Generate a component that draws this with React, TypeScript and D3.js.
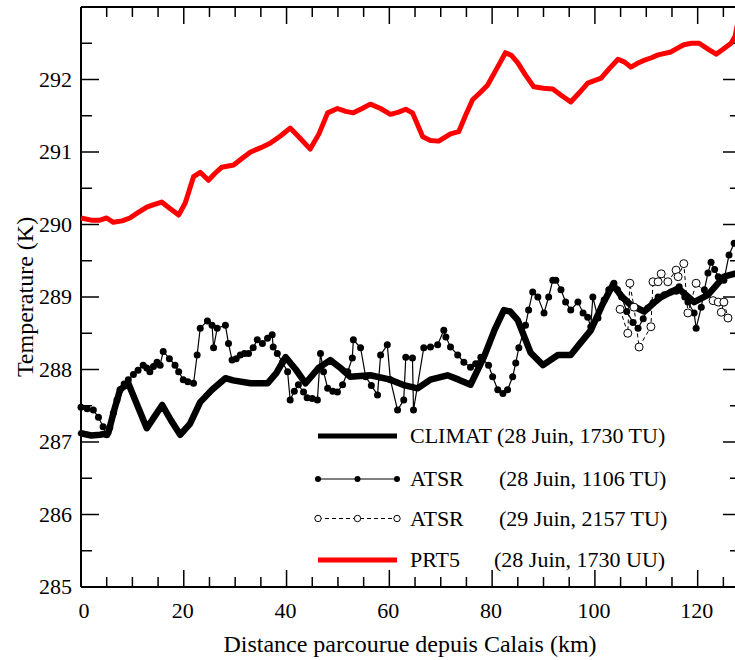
import React from "react";
import * as d3 from "d3";

// ---- data (distance km, temperature K) ----
const prt5: [number, number][] = [
  [0, 290.09], [2, 290.06], [3.7, 290.06], [5, 290.09], [6.3, 290.03], [8, 290.05], [9.5, 290.09],
  [11, 290.16], [12.8, 290.24], [14, 290.27], [15.7, 290.31], [17.3, 290.22], [19, 290.13],
  [20.3, 290.3], [21.9, 290.66], [23.2, 290.72], [24.8, 290.61], [26, 290.7], [27.4, 290.79],
  [29.7, 290.82], [31.5, 290.92], [33, 291.0], [35, 291.06], [36.8, 291.12], [38.8, 291.22],
  [40.7, 291.33], [42.5, 291.2], [44.6, 291.04], [46.3, 291.25], [48, 291.54], [49.9, 291.6],
  [51.5, 291.56], [53, 291.54], [54.7, 291.6], [56.3, 291.66], [58.3, 291.6], [60.2, 291.52],
  [61.8, 291.55], [63.2, 291.59], [64.5, 291.54], [66.5, 291.21], [68, 291.16], [69.6, 291.15],
  [71.9, 291.25], [73.5, 291.28], [74.8, 291.5], [76.2, 291.72], [77.7, 291.82], [79.1, 291.92],
  [80.9, 292.15], [82.6, 292.37], [83.8, 292.33], [85, 292.23], [86.5, 292.06], [88.1, 291.9],
  [90, 291.88], [91.8, 291.87], [93.5, 291.78], [95.3, 291.69], [97, 291.82], [98.6, 291.95],
  [101.2, 292.02], [102.8, 292.15], [104.5, 292.28], [105.8, 292.24], [107, 292.17], [108.2, 292.22],
  [109.4, 292.26], [111, 292.3], [112.3, 292.34], [114.8, 292.38], [116, 292.43], [117.3, 292.48],
  [118.8, 292.5], [120.3, 292.5], [122, 292.42], [123.6, 292.35], [125, 292.42], [126.5, 292.5],
  [127.3, 292.6], [127.7, 292.75],
];

const climat: [number, number][] = [
  [0, 287.12], [2, 287.09], [3.7, 287.1], [5.3, 287.12], [6.5, 287.45], [7.6, 287.72], [9.2, 287.81],
  [11, 287.5], [12.8, 287.19], [14.3, 287.35], [15.8, 287.51], [17.5, 287.3], [19.3, 287.1],
  [21.2, 287.25], [23.2, 287.55], [25.5, 287.72], [28.1, 287.88], [29.6, 287.85], [33, 287.81],
  [36.3, 287.81], [38, 287.95], [39.8, 288.17], [41.8, 288.0], [43.7, 287.81], [46.2, 288.02],
  [48.5, 288.13], [50.5, 288.02], [52.4, 287.9], [56.3, 287.92], [60.2, 287.86], [63, 287.78],
  [65.5, 287.74], [68, 287.86], [71.3, 287.92], [73.5, 287.86], [75.8, 287.79], [78.4, 288.17],
  [80.5, 288.55], [82.3, 288.82], [83.5, 288.8], [85, 288.68], [87.5, 288.23], [89.9, 288.06],
  [92.8, 288.2], [95.3, 288.2], [97, 288.35], [99.2, 288.54], [101.5, 288.9], [103.5, 289.17],
  [105.3, 289.0], [107, 288.89], [109.6, 288.8], [111.5, 288.92], [112.9, 289.0], [116.2, 289.12],
  [119.3, 288.93], [122, 289.03], [125.1, 289.28], [127.6, 289.33],
];

const atsr28: [number, number][] = [
  [0, 287.48], [1.2, 287.46], [2.4, 287.44], [3.4, 287.34], [4.3, 287.21], [5, 287.1], [5.6, 287.2],
  [6.3, 287.4], [7, 287.58], [7.6, 287.72], [8.4, 287.8], [9.2, 287.86], [10.2, 287.93], [11.1, 287.99],
  [12.1, 288.06], [12.8, 288.02], [13.4, 287.97], [14.1, 288.04], [14.8, 288.1], [15.4, 288.06],
  [16, 288.25], [17.2, 288.15], [18.3, 288.06], [19, 287.97], [19.9, 287.86], [20.8, 287.83],
  [21.9, 287.81], [22.6, 288.2], [23.2, 288.57], [24.6, 288.67], [25.5, 288.61], [25.8, 288.3],
  [26.5, 288.57], [28.1, 288.61], [28.7, 288.36], [29.4, 288.13], [30.2, 288.15], [31, 288.2],
  [31.8, 288.22], [32.6, 288.22], [33.5, 288.3], [34.3, 288.41], [35.3, 288.36], [36.3, 288.43],
  [37.2, 288.48], [37.4, 288.31], [38.2, 288.22], [39.2, 288.1], [40.2, 287.97], [40.7, 287.58],
  [41.5, 287.7], [42.3, 287.79], [43.3, 287.69], [44, 287.61], [45, 287.6], [46, 287.58],
  [46.6, 288.22], [47.2, 287.97], [48, 287.74], [49, 287.7], [49.9, 287.69], [50.9, 287.79],
  [51.9, 287.97], [52.8, 288.16], [53, 288.41], [54.4, 288.3], [55.4, 287.9], [56.5, 287.78],
  [57.7, 287.65], [58.3, 288.2], [59.6, 288.34], [60.2, 287.86], [61.6, 287.44], [62.8, 287.58],
  [63.2, 288.17], [64.5, 288.16], [64.7, 287.44], [66.7, 288.3], [68, 288.31], [69.4, 288.34],
  [70.6, 288.54], [71, 288.45], [71.9, 288.31], [73.3, 288.2], [74.5, 288.1], [75.8, 288.03],
  [76.8, 288.08], [77.8, 288.17], [79.3, 288.06], [80.1, 287.9], [81.1, 287.72], [82.1, 287.67],
  [83, 287.72], [84, 287.9], [84.6, 288.09], [85.2, 288.3], [86.5, 288.61], [87.1, 288.82],
  [87.9, 289.07], [88.9, 289.0], [90.1, 288.78], [91, 289.0], [91.8, 289.23], [92.4, 289.23],
  [93.4, 289.1], [94.3, 288.93], [95.3, 288.82], [96.7, 288.93], [97.7, 288.78], [98.6, 288.72],
  [99.2, 288.59], [99.6, 289.0], [100.6, 288.71], [101.8, 288.96], [102.7, 289.1], [103.7, 289.19],
  [104.4, 289.1], [105.2, 289.0], [106.2, 288.8], [107.4, 288.65], [108.4, 288.57], [109.4, 288.7],
  [110.3, 288.85], [111.3, 288.92], [112.3, 289.0], [113.5, 289.03], [114.8, 289.07], [115.8, 289.08],
  [116.4, 289.14], [117.5, 289.0], [118.1, 288.93], [119.3, 288.78], [119.7, 288.57], [120.7, 288.86],
  [121.3, 289.1], [122, 289.33], [122.6, 289.48], [123.3, 289.38], [124, 289.28], [125.1, 289.23],
  [126.1, 289.58], [127.1, 289.74],
];

const atsr29: [number, number][] = [
  [104.9, 288.83], [106.4, 288.5], [106.8, 289.19], [107.6, 288.86], [108.6, 288.31], [110.9, 288.59],
  [111.3, 289.21], [112.3, 289.21], [112.9, 289.32], [114.2, 289.21], [115.8, 289.37], [116.2, 289.28],
  [117.3, 289.46], [118.1, 288.78], [119.7, 289.19], [123, 288.95], [124, 288.93], [124.6, 288.79],
  [125.1, 288.93], [125.9, 288.71],
];

const xTicks = [0, 20, 40, 60, 80, 100, 120];
const yTicks = [285, 286, 287, 288, 289, 290, 291, 292];

const legendItems = [
  { name: "CLIMAT", date: "(28 Juin, 1730 TU)", kind: "climat" },
  { name: "ATSR", date: "(28 Juin, 1106 TU)", kind: "atsr28" },
  { name: "ATSR", date: "(29 Juin, 2157 TU)", kind: "atsr29" },
  { name: "PRT5", date: "(28 Juin, 1730 UU)", kind: "prt5" },
];

const W = 735;
const H = 660;
const FONT = "Liberation Serif";
const tStyle: React.CSSProperties = { fontFamily: FONT };

export default function App() {
  const left = 81, right = 741, top = 7, bottom = 587;
  const x = d3.scaleLinear().domain([0, 128.43]).range([left, right]);
  const y = d3.scaleLinear().domain([285, 293]).range([bottom, top]);
  const line = d3.line<[number, number]>().x((d) => x(d[0])).y((d) => y(d[1]));

  const xMinor = d3.range(0, 130, 5);
  const yMinor = d3.range(285, 293.01, 0.5);

  const legX0 = 318, legX1 = 397, legText = 410;
  const legY = [436, 479, 518.5, 560];
  const dateX = [410, 499, 499, 494];

  return (
    <svg
      width={W}
      height={H}
      style={{ position: "absolute", left: 0, top: 0, background: "#fff" }}
    >
      <rect x={0} y={0} width={W} height={H} fill="#fff" />
      {/* axes frame */}
      <line x1={left} x2={left} y1={top} y2={bottom} stroke="#000" strokeWidth={2} />
      <line x1={left} x2={right} y1={bottom} y2={bottom} stroke="#000" strokeWidth={2} />
      <line x1={left} x2={right} y1={top} y2={top} stroke="#000" strokeWidth={2} />
      <line x1={right} x2={right} y1={top} y2={bottom} stroke="#000" strokeWidth={2} />

      {/* x ticks */}
      {xMinor.map((v) => {
        const major = v % 20 === 0;
        const len = major ? 17 : 10;
        return (
          <g key={"xt" + v}>
            <line x1={x(v)} x2={x(v)} y1={bottom} y2={bottom - len} stroke="#000" strokeWidth={1.5} />
            <line x1={x(v)} x2={x(v)} y1={top} y2={top + len} stroke="#000" strokeWidth={1.5} />
          </g>
        );
      })}
      {/* y ticks */}
      {yMinor.map((v) => {
        const major = Math.abs(v - Math.round(v)) < 1e-6;
        const len = major ? 18 : 11;
        return (
          <g key={"yt" + v}>
            <line x1={left} x2={left + len} y1={y(v)} y2={y(v)} stroke="#000" strokeWidth={1.5} />
            <line x1={right} x2={right - len} y1={y(v)} y2={y(v)} stroke="#000" strokeWidth={1.5} />
          </g>
        );
      })}

      {xTicks.map((v) => (
        <text key={"xl" + v} style={tStyle} x={x(v) + (v === 0 ? 3 : -1)} y={618} fontSize={22} textAnchor="middle">
          {v}
        </text>
      ))}
      {yTicks.map((v) => (
        <text key={"yl" + v} style={tStyle} x={72} y={y(v) + 7} fontSize={22} textAnchor="end">
          {v}
        </text>
      ))}

      <text style={tStyle} x={410} y={652} fontSize={24} textAnchor="middle">
        Distance parcourue depuis Calais (km)
      </text>
      <text style={tStyle} transform={`translate(33,297) rotate(-90)`} fontSize={24} textAnchor="middle">
        Temperature (K)
      </text>

      {/* series */}
      <path d={line(prt5) ?? ""} fill="none" stroke="#ff0000" strokeWidth={5} strokeLinejoin="round" />
      <path d={line(climat) ?? ""} fill="none" stroke="#000" strokeWidth={6.5} strokeLinejoin="round" strokeLinecap="round" />
      <path d={line(atsr28) ?? ""} fill="none" stroke="#000" strokeWidth={1.2} />
      {atsr28.map((d, i) => (
        <circle key={"a" + i} cx={x(d[0])} cy={y(d[1])} r={3.5} fill="#000" />
      ))}
      <path d={line(atsr29) ?? ""} fill="none" stroke="#000" strokeWidth={1} strokeDasharray="4,3" />
      {atsr29.map((d, i) => (
        <circle key={"b" + i} cx={x(d[0])} cy={y(d[1])} r={4} fill="#fff" stroke="#000" strokeWidth={1} />
      ))}

      {/* legend */}
      {legendItems.map((it, i) => {
        const ly = legY[i];
        let sample: React.ReactNode = null;
        if (it.kind === "climat") {
          sample = <line x1={legX0} x2={legX1} y1={ly} y2={ly} stroke="#000" strokeWidth={5} />;
        } else if (it.kind === "prt5") {
          sample = <line x1={legX0} x2={legX1} y1={ly} y2={ly} stroke="#ff0000" strokeWidth={5} />;
        } else if (it.kind === "atsr28") {
          sample = (
            <g>
              <line x1={legX0} x2={legX1} y1={ly} y2={ly} stroke="#000" strokeWidth={1.2} />
              {[legX0, (legX0 + legX1) / 2, legX1].map((cx, k) => (
                <circle key={k} cx={cx} cy={ly} r={3} fill="#000" />
              ))}
            </g>
          );
        } else {
          sample = (
            <g>
              <line x1={legX0} x2={legX1} y1={ly} y2={ly} stroke="#000" strokeWidth={1} strokeDasharray="4,3" />
              {[legX0, (legX0 + legX1) / 2, legX1].map((cx, k) => (
                <circle key={k} cx={cx} cy={ly} r={3.2} fill="#fff" stroke="#000" strokeWidth={1} />
              ))}
            </g>
          );
        }
        return (
          <g key={"lg" + i}>
            {sample}
            {i === 0 ? (
              <text style={tStyle} x={legText} y={ly + 7} fontSize={22}>
                {it.name + " " + it.date}
              </text>
            ) : (
              <>
                <text style={tStyle} x={legText} y={ly + 7} fontSize={22}>
                  {it.name}
                </text>
                <text style={tStyle} x={dateX[i]} y={ly + 7} fontSize={22}>
                  {it.date}
                </text>
              </>
            )}
          </g>
        );
      })}
    </svg>
  );
}
